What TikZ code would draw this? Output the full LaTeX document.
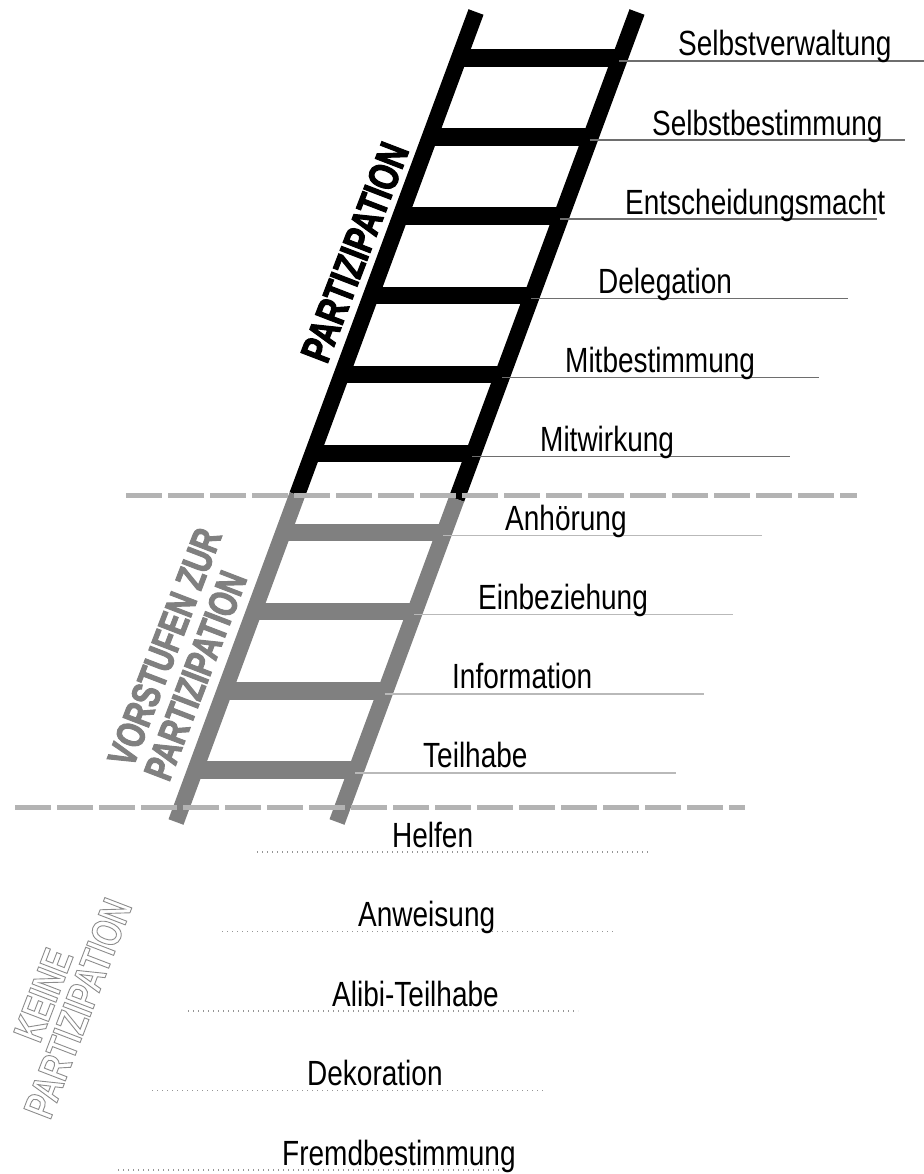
\documentclass[tikz,border=0pt]{standalone}
\usepackage{fontspec}
\setmainfont{Liberation Sans}
\newfontfamily\labelfont[FakeStretch=0.80]{Liberation Sans}
\newfontfamily\headfont[FakeStretch=0.736,FakeBold=2.5]{Liberation Sans}
\newfontfamily\hollowfont[FakeStretch=0.736]{Liberation Sans}
\usetikzlibrary{calc}
\definecolor{laddergray}{RGB}{128,128,128}
\definecolor{dashgray}{RGB}{179,179,179}
\definecolor{ruledark}{RGB}{110,110,110}
\definecolor{rulelight}{RGB}{185,185,185}
\definecolor{dotgray}{RGB}{150,150,150}
\definecolor{outlinegray}{RGB}{140,140,140}
% stroked (hollow) lettering
\newcommand{\hollowtext}[1]{\special{pdf:literal direct 1 Tr 0.9 w}#1\special{pdf:literal direct 0 Tr}}

\begin{document}
\begin{tikzpicture}[x=1pt,y=-1pt,
  rail/.style={line width=16pt, line cap=butt},
  rung/.style={line width=17.5pt, line cap=butt},
  rule/.style={line width=1.4pt},
  dotrule/.style={dotgray, line width=1.1pt, dash pattern=on 1.1pt off 3.9pt},
  divider/.style={dashgray, line width=5pt, dash pattern=on 36pt off 6pt},
  lbl/.style={font=\labelfont\fontsize{35}{40}\selectfont, inner sep=0pt, anchor=base west},
  head/.style={font=\headfont\bfseries\fontsize{42}{46}\selectfont, inner sep=0pt, anchor=base west, rotate=69},
  headsmall/.style={head, font=\headfont\bfseries\fontsize{40}{44}\selectfont},
  hollow/.style={font=\hollowfont\bfseries\fontsize{42}{46}\selectfont, text=outlinegray, inner sep=0pt, rotate=69},
]
\useasboundingbox (0,0) rectangle (923,1174);

% ---- ladder rungs (black upper part, gray lower part)
\foreach \k in {0,...,5}{
  \pgfmathsetmacro{\ry}{58+79.1*\k}
  \pgfmathsetmacro{\rxl}{476-0.3704*(\ry-12)}
  \draw[rung,black] (\rxl,\ry) -- ++(161,0);
}
\foreach \k in {6,...,9}{
  \pgfmathsetmacro{\ry}{58+79.1*\k}
  \pgfmathsetmacro{\rxl}{476-0.3704*(\ry-12)}
  \draw[rung,laddergray] (\rxl,\ry) -- ++(161,0);
}

% ---- ladder rails
\coordinate (lTop) at (476,12);
\coordinate (lMid) at (297.1,495);
\coordinate (lBot) at (176,822);
\coordinate (rTop) at (637,12);
\coordinate (rMid) at (456.6,499);
\coordinate (rBot) at (337,822);
\draw[rail,black] (lTop) -- (lMid);
\draw[rail,laddergray] (lMid) -- (lBot);
\draw[rail,black] (rTop) -- (rMid);
\draw[rail,laddergray] (rMid) -- (rBot);

% ---- dashed dividers between the three zones
\coordinate (d1a) at (126,495);
\coordinate (d1b) at (857,495);
\coordinate (d2a) at (15,807);
\coordinate (d2b) at (745,807);
\draw[divider] (d1a) -- (d1b);
\draw[divider] (d2a) -- (d2b);

% ---- rules under the step labels
\foreach \y/\xa/\xb/\c in {61/619/935/ruledark, 140.1/589.5/905/ruledark,
    219.2/560/877/ruledark, 298.3/531/848/ruledark, 377.4/502/819/ruledark,
    456.5/472/790/ruledark, 535.6/443/762/rulelight, 614.7/414/733/rulelight,
    693.8/384.5/704/rulelight, 772.9/355/676/rulelight}{
  \draw[rule,\c] (\xa,\y) -- (\xb,\y);
}

% ---- step labels on the ladder
\node[lbl] (s1)  at (678,56)    {Selbstverwaltung};
\node[lbl] (s2)  at (652,135.1) {Selbstbestimmung};
\node[lbl] (s3)  at (625,214.2) {Entscheidungsmacht};
\node[lbl] (s4)  at (598,293.3) {Delegation};
\node[lbl] (s5)  at (565,372.4) {Mitbestimmung};
\node[lbl] (s6)  at (540,451.5) {Mitwirkung};
\node[lbl] (s7)  at (505,530.6) {Anhörung};
\node[lbl] (s8)  at (478,609.7) {Einbeziehung};
\node[lbl] (s9)  at (452,688.8) {Information};
\node[lbl] (s10) at (423,767.9) {Teilhabe};

% ---- non-participation levels below the ladder
\foreach \y/\xa/\xb in {852/257/648, 931.5/222/613, 1011/188/578,
    1090.5/152/543, 1170/118/505}{
  \draw[dotrule] (\xa,\y) -- (\xb,\y);
}
\node[lbl] (n1) at (392,847)    {Helfen};
\node[lbl] (n2) at (358,926.5)  {Anweisung};
\node[lbl] (n3) at (332,1006)   {Alibi-Teilhabe};
\node[lbl] (n4) at (307,1085.5) {Dekoration};
\node[lbl] (n5) at (282,1165)   {Fremdbestimmung};

% ---- zone titles
\node[head,black] (zTop) at (327,365) {PARTIZIPATION};
\node[headsmall,laddergray] (zMidB) at (169,783) {PARTIZIPATION};
\node[headsmall,laddergray] (zMidA) at ($(zMidB.base west)+(-0.934*39,-0.358*39)$) {VORSTUFEN ZUR};
\node[hollow,anchor=base west] (zLowB) at (50,1121) {\hollowtext{PARTIZIPATION}};
\node[hollow,anchor=base] (zLowA) at ($(zLowB.base)+(-0.934*37,-0.358*37)$) {\hollowtext{KEINE}};
\end{tikzpicture}
\end{document}
